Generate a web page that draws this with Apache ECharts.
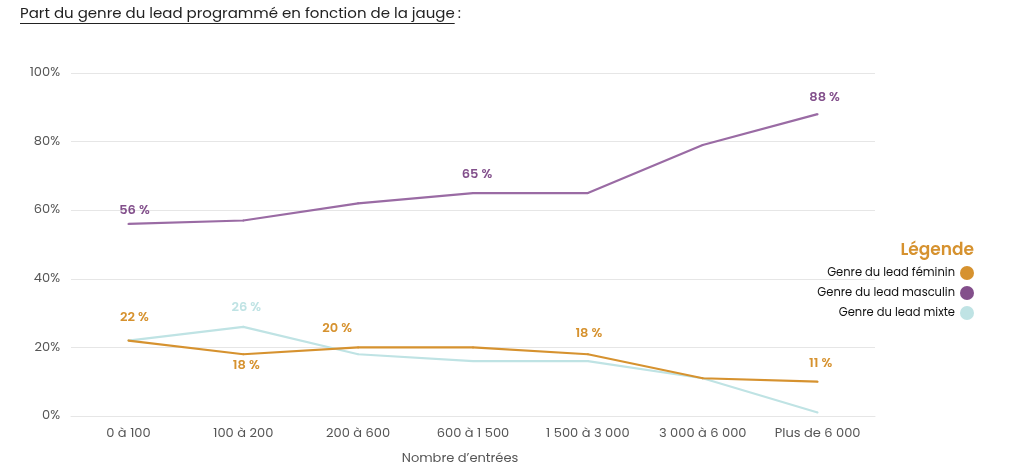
<!DOCTYPE html>
<html>
<head>
<meta charset="utf-8">
<script src="https://cdn.jsdelivr.net/npm/echarts@6/dist/echarts.min.js"></script>
<style>
html,body{margin:0;padding:0;background:#fff;}
#chart{width:1024px;height:470px;}
</style>
</head>
<body>
<div id="chart"></div>
<script>
const categories = ['0 à 100', '100 à 200', '200 à 600', '600 à 1 500', '1 500 à 3 000', '3 000 à 6 000', 'Plus de 6 000'];
const seriesNames = ['Genre du lead féminin', 'Genre du lead masculin', 'Genre du lead mixte'];
const feminin = [22, 18, 20, 20, 18, 11, 10];
const masculin = [56, 57, 62, 65, 65, 79, 88];
const mixte = [22, 26, 18, 16, 16, 11, 1];
const femininLabels = ['22 %', '18 %', '20 %', null, '18 %', null, '11 %'];
const masculinLabels = ['56 %', null, null, '65 %', null, null, '88 %'];
const mixteLabels = [null, '26 %', null, null, null, null, null];
const yTicks = [0, 20, 40, 60, 80, 100];
const titleText = 'Part du genre du lead programmé en fonction de la jauge';
const legendTitle = 'Légende';
const xAxisName = 'Nombre d’entrées';

const FONT = 'Poppins, "Noto Sans", Lato, sans-serif';
const colors = ['#D6922F', '#9A6BA4', '#BFE3E4'];
const labelColors = ['#D6922F', '#83508C', '#BFE3E4'];
const legendIconColors = ['#D6922F', '#834F8B', '#BFE3E4'];

// per-point label placement (style, kept outside data arrays): [position, distance, dx]
const labelPlacement = {
  0: {0: ['top', 15, 6], 1: ['bottom', 4, 3], 2: ['top', 11, -21], 4: ['top', 13, 1], 6: ['top', 10, 3]},
  1: {0: ['top', 6, 6], 3: ['top', 11, 4], 6: ['top', 9, 7]},
  2: {1: ['top', 12, 3]}
};

function buildData(values, labels, sIdx) {
  return values.map((v, i) => {
    const item = {value: v};
    if (labels[i]) {
      const p = labelPlacement[sIdx][i] || ['top', 10, 0];
      item.label = {
        show: true,
        position: p[0],
        distance: p[1],
        offset: [p[2] || 0, 0],
        formatter: labels[i],
        color: labelColors[sIdx],
        fontWeight: 600,
        fontSize: 13,
        fontFamily: FONT
      };
    }
    return item;
  });
}

const chart = echarts.init(document.getElementById('chart'), null, {renderer: 'canvas'});

// measure title width for underline
const cv = document.createElement('canvas').getContext('2d');
cv.font = '15px ' + FONT;
const titleW = cv.measureText(titleText).width;

const allSeries = [feminin, masculin, mixte];
const allLabels = [femininLabels, masculinLabels, mixteLabels];

chart.setOption({
  animation: false,
  backgroundColor: '#fff',
  grid: {left: 71, right: 149, top: 73, bottom: 53},
  xAxis: {
    type: 'category',
    data: categories,
    boundaryGap: true,
    axisLine: {show: true, lineStyle: {color: '#e6e6e6'}},
    axisTick: {show: false},
    axisLabel: {color: '#555', fontSize: 13, fontFamily: FONT, margin: 11},
    name: xAxisName,
    nameLocation: 'middle',
    nameGap: 36,
    nameTextStyle: {color: '#555', fontSize: 13, fontFamily: FONT, padding: [0, 26, 0, 0]}
  },
  yAxis: {
    type: 'value',
    min: yTicks[0],
    max: yTicks[yTicks.length - 1],
    interval: yTicks[1] - yTicks[0],
    axisLine: {show: false},
    axisTick: {show: false},
    splitLine: {lineStyle: {color: '#e6e6e6', width: 1}},
    axisLabel: {color: '#555', fontSize: 13, fontFamily: FONT, margin: 11, formatter: '{value}%'}
  },
  legend: {
    orient: 'vertical',
    right: 45,
    top: 261,
    align: 'right',
    icon: 'circle',
    itemWidth: 14,
    itemHeight: 14,
    itemGap: 6,
    textStyle: {color: '#111', fontSize: 11.5, fontFamily: FONT},
    data: seriesNames.map((n, i) => ({name: n, itemStyle: {color: legendIconColors[i], opacity: 1}}))
  },
  graphic: [
    {
      type: 'text', left: 20, top: 7,
      style: {text: titleText, font: '15px ' + FONT, fill: '#222'}
    },
    {
      type: 'text', left: 20 + titleW - 1, top: 7,
      style: {text: ' :', font: '15px ' + FONT, fill: '#222'}
    },
    {
      type: 'line', shape: {x1: 20, y1: 23.5, x2: 20 + titleW, y2: 23.5},
      style: {stroke: '#222', lineWidth: 1}
    },
    {
      type: 'text', right: 50, top: 242,
      style: {text: legendTitle, font: '600 17px ' + FONT, fill: '#D6922F', textAlign: 'right'}
    }
  ],
  series: allSeries.map((vals, i) => ({
    name: seriesNames[i],
    type: 'line',
    data: buildData(vals, allLabels[i], i),
    symbol: 'circle',
    symbolSize: 2,
    showSymbol: true,
    itemStyle: {color: colors[i]},
    smooth: false,
    color: colors[i],
    lineStyle: {width: 2.2, color: colors[i]},
    z: i === 2 ? 1 : 2
  }))
});
</script>
</body>
</html>
